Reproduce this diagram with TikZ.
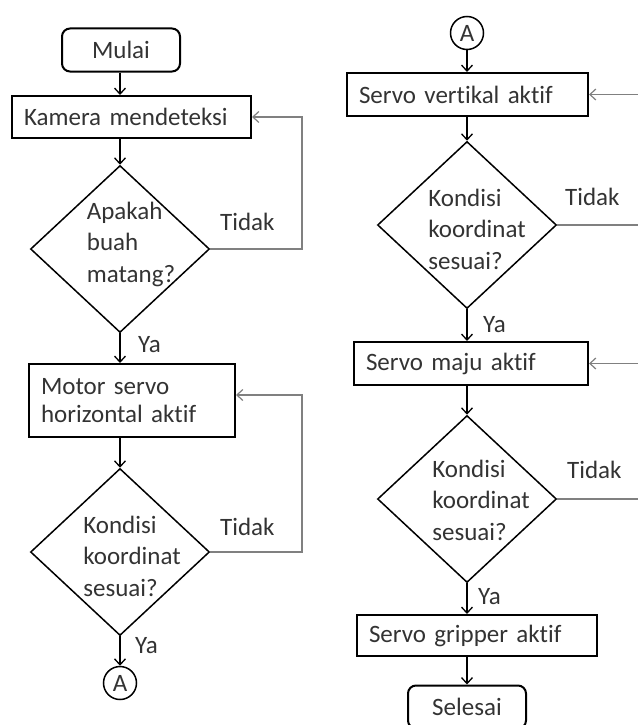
\documentclass[tikz,border=0pt]{standalone}
\usepackage{fontspec}
\setmainfont{Carlito}[Ligatures=NoCommon, WordSpace={0.85,1,1}]
\usetikzlibrary{shapes.geometric, arrows.meta}
\newcommand\flowfont{\fontsize{25}{31.5}\selectfont}

\begin{document}
\begin{tikzpicture}[x=1pt, y=-1pt,
    box/.style={draw, line width=2pt, rectangle, align=left, inner xsep=12pt, inner ysep=0pt, text=black!80, font=\flowfont},
    term/.style={draw, line width=2pt, rounded corners=8pt, minimum width=118pt, minimum height=43pt, text=black!80, font=\flowfont},
    dec/.style={draw, line width=1.5pt, diamond, minimum width=179pt, minimum height=167pt, inner sep=0pt},
    dectext/.style={align=left, inner sep=0pt, text=black!80, font=\flowfont},
    conn/.style={draw, circle, line width=1.5pt, minimum size=33pt, inner sep=0pt, text=black!80, font=\flowfont},
    flow/.style={line width=1.3pt, -{Straight Barb[length=6pt, width=11pt]}},
    back/.style={line width=1.2pt, gray, -{Straight Barb[length=6pt, width=11pt]}},
    lbl/.style={anchor=west, inner sep=0pt, text=black!80, font=\flowfont}]
    \useasboundingbox (0,0) rectangle (637,725);

    \coordinate (loopL) at (302,0);
    \coordinate (loopR) at (650,0);

    \node[term] (mulai) at (121,50) {Mulai};
    \node[box, text width=215pt, minimum height=42pt] (kamera) at (131.5,117) {Kamera mendeteksi};
    \node[dec] (cek1) at (120,249) {};
    \node[dectext] (cek1t) at (131,244) {Apakah\\buah\\matang?};
    \node[box, text width=182pt, minimum height=73pt, font=\fontsize{25}{27.5}\selectfont] (motor) at (132,400.5) {Motor servo\\horizontal aktif};
    \node[dec] (cek2) at (120,552) {};
    \node[dectext] (cek2t) at (132,556) {Kondisi\\koordinat\\sesuai?};
    \node[conn] (a1) at (120,683) {A};

    \node[conn] (a2) at (467,33) {A};
    \node[box, text width=217pt, minimum height=43pt] (vertikal) at (467.5,94.5) {Servo vertikal aktif};
    \node[dec] (cek3) at (467,225) {};
    \node[dectext] (cek3t) at (477,229) {Kondisi\\koordinat\\sesuai?};
    \node[box, text width=210pt, minimum height=43pt] (maju) at (471,363.5) {Servo maju aktif};
    \node[dec] (cek4) at (467,499) {};
    \node[dectext] (cek4t) at (481,500) {Kondisi\\koordinat\\sesuai?};
    \node[box, text width=216pt, minimum height=41pt] (gripper) at (477,635.5) {Servo gripper aktif};
    \node[term] (selesai) at (467,707) {Selesai};

    \draw[flow] (mulai.south -| cek1.north) -- (cek1.north |- kamera.north);
    \draw[flow] (kamera.south -| cek1.north) -- (cek1.north);
    \draw[flow] (cek1.south) -- (cek1.south |- motor.north);
    \draw[flow] (motor.south -| cek2.north) -- (cek2.north);
    \draw[flow] (cek2.south) -- (a1.north);
    \draw[back] (cek1.east) -| (loopL |- kamera.east) -- (kamera.east);
    \draw[back] (cek2.east) -| (loopL |- 0,395) -- ([yshift=5.5pt]motor.east);

    \draw[flow] (a2.south) -- (a2.south |- vertikal.north);
    \draw[flow] (vertikal.south -| cek3.north) -- (cek3.north);
    \draw[flow] (cek3.south) -- (cek3.south |- maju.north);
    \draw[flow] (maju.south -| cek4.north) -- (cek4.north);
    \draw[flow] (cek4.south) -- (cek4.south |- gripper.north);
    \draw[flow] (gripper.south -| selesai.north) -- (selesai.north);
    \draw[back] (cek3.east) -| (loopR |- vertikal.east) -- (vertikal.east);
    \draw[back] (cek4.east) -| (loopR |- maju.east) -- (maju.east);

    \node[lbl] (tidak1) at (220,222) {Tidak};
    \node[lbl] (tidak2) at (220,527) {Tidak};
    \node[lbl] (tidak3) at (565,197) {Tidak};
    \node[lbl] (tidak4) at (567,470) {Tidak};
    \node[lbl] (ya1) at (138,345) {Ya};
    \node[lbl] (ya2) at (135,646) {Ya};
    \node[lbl] (ya3) at (483,325) {Ya};
    \node[lbl] (ya4) at (478,597) {Ya};
\end{tikzpicture}
\end{document}
